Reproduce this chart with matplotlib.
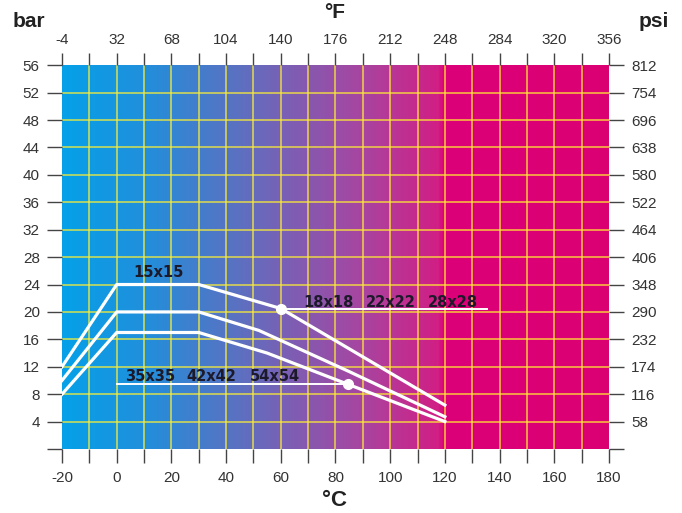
import numpy as np
import matplotlib as mpl
import matplotlib.pyplot as plt
from matplotlib.colors import LinearSegmentedColormap

# --------------------------------------------------------------
# Data
# --------------------------------------------------------------

celsius_ticks = list(range(-20, 181, 10))
celsius_labels = [str(c) if c % 20 == 0 else "" for c in celsius_ticks]
fahrenheit_labels = [str(round(c * 9 / 5 + 32)) if c % 20 == 0 else "" for c in celsius_ticks]
bar_ticks = list(range(0, 57, 4))
bar_labels = [str(b) if b > 0 else "" for b in bar_ticks]
psi_labels = ["", "58", "116", "174", "232", "290", "348", "406", "464",
              "522", "580", "638", "696", "754", "812"]

curve_15_t = [-20, 0, 30, 60, 120]
curve_15_p = [12, 24, 24, 20.5, 6.4]

curve_mid_t = [-20, 0, 30, 52, 85, 120]
curve_mid_p = [10, 20, 20, 17.3, 11.3, 4.7]

curve_big_t = [-20, 0, 30, 55, 84.5, 120]
curve_big_p = [8, 17, 17, 14.0, 9.45, 4]

mid_marker = (60, 20.5)
mid_line_end = 135.5
big_marker = (84.5, 9.45)
big_line_start = 0

size_labels = ["15x15", "18x18", "22x22", "28x28", "35x35", "42x42", "54x54"]
size_label_t = [6.1, 68.1, 91.2, 113.8, 3.0, 25.6, 48.7]
size_label_p = [25.7, 21.4, 21.4, 21.4, 10.65, 10.65, 10.65]

# --------------------------------------------------------------
# Figure
# --------------------------------------------------------------

mpl.rcParams['font.family'] = ['Liberation Sans', 'DejaVu Sans']

fig = plt.figure(figsize=(6.82, 5.13), dpi=100)
ax = fig.add_axes([0.0909, 0.1248, 0.802, 0.748])

# background gradient (blue -> magenta, flat after 120 C)
grad_cmap = LinearSegmentedColormap.from_list(
    "grad",
    [(0.0, (0.02, 0.63, 0.91)),
     (0.15, (0.13, 0.56, 0.86)),
     (0.35, (0.40, 0.42, 0.74)),
     (0.55, (0.66, 0.27, 0.63)),
     (0.69, (0.82, 0.12, 0.52)),
     (0.70, (0.86, 0.00, 0.47)),
     (1.0, (0.86, 0.00, 0.45))])
gradient = np.linspace(0, 1, 400).reshape(1, -1)
ax.imshow(gradient, extent=[-20, 180, 0, 56], aspect="auto", cmap=grad_cmap,
          origin="lower", zorder=0)

for c in celsius_ticks[1:-1]:
    ax.axvline(c, color="#fff033", alpha=0.7, lw=1.3, zorder=1)
for b in bar_ticks[1:-1]:
    ax.axhline(b, color="#fff033", alpha=0.7, lw=1.3, zorder=1)

ax.set_xlim(-20, 180)
ax.set_ylim(0, 56)

# curves
for t, p in [(curve_15_t, curve_15_p), (curve_mid_t, curve_mid_p), (curve_big_t, curve_big_p)]:
    ax.plot(t, p, color="white", lw=2.3, solid_joinstyle="round", zorder=3)

ax.plot([mid_marker[0], mid_line_end], [mid_marker[1], mid_marker[1]], color="white", lw=1.4, zorder=3)
ax.plot([big_line_start, big_marker[0]], [big_marker[1], big_marker[1]], color="white", lw=1.4, zorder=3)
ax.plot(*mid_marker, "o", color="white", ms=7, zorder=4)
ax.plot(*big_marker, "o", color="white", ms=7, zorder=4)

for txt, t, p in zip(size_labels, size_label_t, size_label_p):
    ax.text(t, p, txt, ha="left", va="center", fontsize=10.5, fontweight="bold",
            family="DejaVu Sans", color="#1c1a2a", zorder=5)

# axes / ticks
for s in ax.spines.values():
    s.set_visible(False)

tick_kw = dict(width=1, color="#444444", labelsize=11, labelcolor="#333333")

ax.set_xticks(celsius_ticks)
ax.set_xticklabels(celsius_labels)
ax.set_yticks(bar_ticks)
ax.set_yticklabels(bar_labels)
ax.tick_params(axis="x", length=10, pad=5.5, **tick_kw)
ax.tick_params(axis="y", length=10.5, pad=5.5, **tick_kw)

axr = ax.twinx()
axr.set_ylim(0, 56)
axr.set_yticks(bar_ticks)
axr.set_yticklabels(psi_labels)
axr.tick_params(axis="y", length=11, pad=5, **tick_kw)

axt = ax.twiny()
axt.set_xlim(-20, 180)
axt.set_xticks(celsius_ticks)
axt.set_xticklabels(fahrenheit_labels)
axt.tick_params(axis="x", length=9, pad=4.5, **tick_kw)

for a in (axr, axt):
    for s in a.spines.values():
        s.set_visible(False)

fig.text(0.018, 0.94, "bar", fontsize=15, fontweight="bold", color="#222222", ha="left", va="bottom")
fig.text(0.937, 0.94, "psi", fontsize=15, fontweight="bold", color="#222222", ha="left", va="bottom")
fig.text(0.49, 0.975, "°F", fontsize=15, fontweight="bold", color="#222222", ha="center", va="center")
fig.text(0.49, 0.025, "°C", fontsize=16, fontweight="bold", color="#222222", ha="center", va="center")

plt.savefig("out.png", dpi=100)
plt.close()
